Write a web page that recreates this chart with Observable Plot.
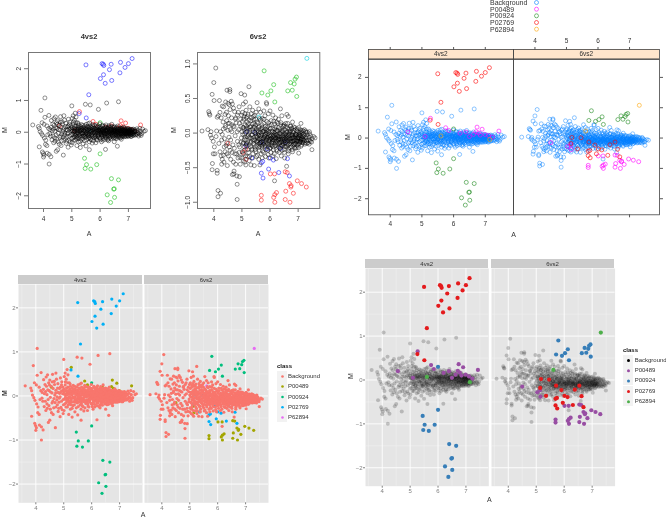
<!DOCTYPE html>
<html><head><meta charset="utf-8">
<style>
html,body{margin:0;padding:0;background:#fff;width:666px;height:518px;overflow:hidden;font-family:"Liberation Sans",Helvetica,Arial,sans-serif}
#page{position:relative;width:666px;height:518px;overflow:hidden;filter:blur(.35px)}
#page svg{position:absolute;overflow:visible;background:transparent;max-width:none}
.t{position:absolute;white-space:nowrap;line-height:1;transform:translate(-50%,-50%)}
.l{position:absolute;white-space:nowrap;line-height:1;transform:translateY(-50%)}
.s{position:absolute}
</style>
<script src="https://cdn.jsdelivr.net/npm/d3@7"></script>
<script src="https://cdn.jsdelivr.net/npm/@observablehq/plot@0.6"></script>
</head><body><div id="page"></div>
<script>
const classes=["Background","P00489","P00924","P02769","P62894"];
const xTicks=[4,5,6,7];
const yTicksWide=[-2,-1,0,1,2];
const yTicksNarrow=[-1,-.5,0,.5,1];
const p02769_4=[5.5,2.12,6.07,2.16,6.11,2.14,6.13,2.1,6.39,2.14,6.72,2.2,7,2.16,7.13,2.32,6.88,2.04,6.33,1.97,6.12,1.81,6.01,1.69,6.18,1.54,6.41,1.63,6.7,1.87,5.6,1.18,5.51,.45,5.26,.59];
const p00489_4=[5.27,.65,5.75,.34,6.74,.36,6.9,.29,7.43,.23,6.39,.2,6.71,.21,6.78,.17,6.63,.12,6.99,.12,7.11,.08,7.23,.03,6.84,.1,4.56,.2,5.1,.05,6.2,.16,5.85,.25,6.5,.05];
const p00924_4=[6,-.68,5.45,-.82,5.52,-1.02,5.88,-1.02,5.47,-1.14,5.67,-1.16,6.4,-1.46,6.65,-1.5,6.5,-1.78,6.48,-1.79,6.25,-1.97,6.51,-2.05,6.37,-2.21,6,.3];
const p62894_4=[5.6,.07,7.14,-.05];
const p00924_6=[5.79,.9,5.71,.58,5.92,.55,6.03,.61,6.13,.7,6.17,.45,6.63,.61,6.79,.62,6.73,.73,6.86,.71,6.89,.78,6.94,.81,6.95,.53];
const p62894_6=[7.31,1.08,5.61,.23];
const p00489_6=[5.69,-.9,5.69,-.97,6.01,-.59,6.16,-.59,6.54,-.56,6.61,-.57,6.69,-.73,6.75,-.76,6.97,-.69,7.12,-.73,7.29,-.78,6.83,-.87,6.74,-.78,6.56,-.84,6.54,-.96,6.71,-1,6.17,-.89,6.23,-.86,6.13,-.93,6.17,-1,5.14,-.23,5.15,-.38,5.04,-.28,4.5,-.15];
const p02769_6=[5.17,.02,5.46,.01,5.71,-.13,5.14,-.18,5.35,-.36,5.69,-.43,5.74,-.41,5.69,-.58,5.75,-.65,5.9,-.23,5.95,-.52,6.01,-.36,6.12,-.39,6.31,-.57,6.38,-.22,6.54,-.13,6.62,-.37,6.69,-.62];
const bg4=[3.62,.23,3.85,.12,3.88,.02,3.82,.18,3.91,.69,4.05,1.08,3.85,-.46,3.96,-.62,3.99,-.67,4,-.78,4.2,-1,4.2,-.7,4.26,-.77,4.13,-.66,4.02,-.72,4.19,.53,3.95,.3,4.02,.25,4.05,.47,3.97,-.1,3.93,-.04,4.03,-.18,4.08,-.25,4.12,-.42,4.07,-.38,4.15,-.08,4.18,.12,4.12,.2,4.23,.08,4.28,.37,4.33,.26,4.37,.43,4.42,.48,4.46,.3,4.5,.36,4.55,.22,4.6,.49,4.66,.33,4.72,.52,4.78,.18,4.25,-.12,4.3,-.24,4.36,-.33,4.4,-.18,4.45,-.6,4.5,-.55,4.44,-.08,4.52,-.3,4.58,-.16,4.62,-.42,4.65,-.06,4.7,-.72,4.72,-.25,4.75,-.09,4.8,-.35,4.83,-.14,4.87,-.47,4.9,-.26,4.93,.32,4.95,.12,4.88,.41,4.85,.06,4.98,-.4,5.02,.44,5,.83,5.12,.6,5.05,.52,5.09,.38,5.15,.48,5.2,.3,5.48,.88,5.65,.86,5.94,.72,6.23,.92,6.65,.96,5.62,-.55,6.19,-.54,6.61,-.44,5.18,-.42,5.24,-.3,5.3,-.48,5.4,-.36,5.5,-.43,5.62,-.3,5.72,-.34,5.85,-.33,6.05,-.3,6.3,-.27,6.5,-.3,6.75,-.22,
4.35,.1,4.4,.03,4.48,.12,4.52,-.03,4.58,.07,4.62,.17,4.68,.02,4.72,.13,4.76,-.02,4.8,.08,4.84,-.05,4.88,.2,4.92,-.12,4.96,.05,4.99,-.2,5.01,.15,5.03,-.07,5.05,.25,5.07,.02,5.09,-.15,5.11,.1,5.13,-.25,5.15,.2,5.17,-.04,5.19,.06,5.21,-.18,5.23,.27,5.25,.12,5.27,-.09,5.29,.02,5.31,.18,5.33,-.22,5.35,.08,5.37,-.13,5.39,.22,5.41,-.02,5.43,.13,5.45,-.27,5.47,.05,5.49,-.16,5.51,.25,5.53,.1,5.55,-.07,5.57,.17,5.59,-.2,5.61,.01,5.63,.29,5.65,-.12,5.67,.09,5.69,-.24,5.71,.15,5.73,-.03,5.75,.24,5.77,.06,5.79,-.17,5.81,.11,5.83,-.09,5.85,.2,5.87,-.23,5.89,.03,5.91,.16,5.93,-.13,5.95,.08,5.97,-.04,5.99,.26,6.01,-.19,6.03,.12,6.05,.01,6.07,-.1,6.09,.19,6.11,-.25,6.13,.06,6.15,-.06,6.17,.14,6.19,-.16,6.21,.23,6.23,.02,6.25,-.11,6.27,.09,6.29,-.21,6.31,.17,6.33,-.03,6.35,.05,6.37,-.14,6.39,.11,6.41,.25,6.43,-.08,6.45,.01,6.47,-.18,6.49,.15,6.51,.07,6.53,-.05,6.55,-.2,6.57,.12,6.59,.03,6.61,-.12,6.63,.2,6.65,-.02,6.67,.08,6.69,-.16,6.71,.13,6.73,-.07,6.75,.03,6.77,-.11,6.79,.1,6.81,-.02,6.83,.16,6.85,-.14,6.87,.05,6.89,-.06,6.91,.11,6.93,-.1,6.95,.01,6.97,.07,6.99,-.13,7.01,.04,7.03,-.04,7.05,.1,7.07,-.08,7.09,.02,7.11,-.13,7.13,.06,7.15,-.03,7.17,.1,7.19,-.09,7.21,.01,7.24,.05,7.27,-.06,7.3,.11,7.33,-.02,7.36,-.12,7.4,.12,7.42,.03,7.45,-.1,7.5,.1,7.55,.03,7.6,.05,7.47,-.04,
5.54,.05,5.58,-.04,5.62,.12,5.66,.02,5.7,-.08,5.74,.07,5.78,.01,5.82,-.02,5.86,.09,5.9,-.07,5.94,.03,5.98,.1,6.02,-.06,6.06,.05,6.1,-.02,6.14,.1,6.18,-.07,6.2,.04,6.24,-.03,6.26,.07,6.28,-.01,6.32,.04,6.36,.1,6.38,-.06,6.42,.01,6.44,.08,6.46,-.04,6.48,.03,6.52,-.01,6.54,.1,6.56,-.06,6.58,.01,6.6,.06,6.62,-.04,6.64,.02,6.66,-.08,6.68,.04,6.7,-.02,6.72,.05,6.74,-.04,6.76,.01,6.78,.07,6.8,-.06,6.82,.02,6.84,-.03,6.86,.04,6.88,-.02,6.9,.02,6.92,-.05,6.94,.05,6.96,-.03,6.98,.02,7,-.01,7.02,.05,7.04,-.06,7.06,.03,7.08,-.02,5.92,-.02,5.96,.06,6,.01,6.04,-.04,6.08,.08,6.12,.02,6.16,-.03,6.22,.06,6.3,-.05,6.34,.02,6.4,-.02,6.5,.02,5.3,.05,5.34,-.03,5.38,.09,5.42,-.08,5.46,.03,5.5,-.05,5.2,.04,5.24,-.06,5.1,.03,5.14,-.09];
const bg4b=[4.22,-.05,4.27,.15,4.31,.05,4.34,-.12,4.38,.22,4.41,-.28,4.43,.14,4.47,-.22,4.49,.25,4.53,.09,4.56,-.38,4.59,.32,4.61,-.12,4.64,-.27,4.67,.26,4.69,-.15,4.71,.07,4.74,.38,4.77,-.2,4.79,.28,4.82,-.28,4.85,.17,4.87,-.02,4.9,.1,4.92,.25,4.94,-.31,4.97,.2,4.98,-.08,5,.1,5.01,-.33,5.02,.04,5.04,-.18,5.06,.32,5.08,-.25,5.1,.18,5.12,-.05,5.14,.3,5.16,-.2,5.18,.09,5.2,-.12,5.22,.16,5.24,.22,5.26,-.2,5.28,.09,5.3,-.28,5.32,.12,5.34,.24,5.36,-.05,5.38,-.2,5.4,.16,5.42,.05,5.44,-.14,5.46,.2,5.48,-.09,5.5,.13,5.52,-.24,5.54,.18,5.56,-.13,5.58,.27,5.6,-.09,5.61,.14,5.63,-.17,5.64,.2,5.66,-.22,5.68,.15,5.7,.03,5.72,-.13,5.74,.19,5.76,-.27,5.78,.13,5.8,.22,5.82,-.14,5.84,.05,5.86,-.18,5.88,.14,5.9,-.25,5.92,.2,5.94,-.09,5.96,.14,5.98,-.17,6,.17,6.02,-.24,6.04,.07,6.06,-.14,6.08,.22,6.1,-.19,6.12,.13,6.14,-.11,6.16,.19,6.18,-.22,6.2,.1,6.22,-.16,6.24,.16,6.26,-.24,6.28,.13,6.3,-.12,6.32,.21,6.34,-.17,6.36,.16,6.38,-.21,6.4,.07,6.42,.18,6.44,-.14,6.46,.14,6.48,-.1,6.5,.18,6.52,-.16,6.54,.04,6.56,-.13,6.58,.16,6.6,-.19,6.62,.09,6.64,-.14,6.66,.14,6.68,-.11,6.7,.09,6.72,-.18,6.74,.12,6.76,-.15,6.78,.12,6.8,-.13,6.82,.08,6.84,-.09,6.86,.13,6.88,-.12,6.9,.07,6.92,-.14,6.94,.1,6.96,-.09,6.98,.12,7,-.11,7.02,.09,7.04,-.1,7.06,.07,7.08,-.13,7.1,.09,7.12,-.07,7.14,.08,7.16,-.1,7.18,.04,7.2,-.06,7.22,.08,7.25,-.09,7.28,.03,7.31,-.07,7.34,.06,7.38,-.04,7.41,-.07,
5.03,.05,5.06,-.03,5.08,.12,5.11,-.1,5.13,.03,5.16,.12,5.18,-.13,5.21,-.02,5.23,.09,5.26,.04,5.28,-.14,5.31,-.04,5.33,.06,5.36,.14,5.38,-.02,5.41,-.11,5.43,.07,5.46,-.13,5.48,.1,5.51,-.02,5.53,.01,5.56,.08,5.59,-.11,5.61,-.05,5.64,.06,5.67,-.06,5.69,.03,5.72,.09,5.75,-.1,5.77,-.02,5.8,.04,5.83,-.12,5.85,.01,5.88,.07,5.91,-.12,5.93,.07,5.96,-.07,5.99,.03,6.01,.07,6.03,-.01,6.05,-.08,6.07,.04,6.09,.09,6.11,-.06,6.13,-.01,6.15,.03,6.17,-.12,6.19,.07,6.21,-.04,6.23,-.07,6.25,.03,6.27,.12,6.29,-.09,6.31,.01,6.33,.09,6.35,-.09,6.37,.03,6.39,-.03,6.41,.05,6.43,-.11,6.45,.06,6.47,-.01,6.49,.09,6.51,-.09,6.53,.03,6.55,.06,6.57,-.02,6.59,-.09,6.61,.02,6.63,.08,6.65,-.06,6.67,.02,6.69,-.04,6.71,.06,6.73,-.01,6.75,-.06,6.77,.05,6.79,-.03,6.81,.06,6.83,-.07,6.85,.02,6.87,.07,6.89,-.04,6.91,-.01,6.93,.03,6.95,-.06,6.97,.04,6.99,-.04,7.01,.01,7.03,.06,7.05,-.02,7.07,.04,7.09,-.06,7.11,.01,7.13,-.01,7.16,.03,7.2,-.02,7.23,.02];
const bg6=[3.58,.03,4.07,.94,4,.73,3.94,.56,4.2,.47,4.01,.47,3.82,.31,3.86,.26,3.79,.05,3.95,-.44,3.94,-.53,4.12,-.54,4.12,-.58,4.15,-.83,4.24,-.87,4.15,-.92,4.83,-.96,4.83,-.74,4.91,-.63,4.71,-.59,4.47,.62,4.57,.63,4.57,.6,4.97,.57,5.1,.55,5.25,.67,5.13,.45,5.54,.44,5.87,.44,5.88,.42,6.37,.35,6.16,-.69,7.02,-.29,7.49,-.24,6.59,-.48,3.84,.28,3.9,.02,3.88,-.03,3.92,-.07,3.98,-.12,4.02,-.2,4.04,-.3,3.98,-.3,4.08,-.05,4.1,.03,4.12,.23,4.16,.25,4.22,.3,4.26,.22,4.3,.39,4.35,.38,4.42,.45,4.5,.43,4.55,.41,4.62,.46,4.66,.42,4.7,.36,4.74,.31,4.4,.27,4.46,.18,4.52,.25,4.58,.34,4.64,.12,4.78,.22,4.84,.26,4.9,.38,4.95,.2,5.02,.3,5.05,.42,5.08,.24,5.15,.33,5.18,.16,5.22,.27,5.28,.38,5.34,.22,5.38,.33,5.42,.14,5.46,.26,5.5,.3,5.6,.35,5.66,.3,5.72,.21,5.78,.32,5.82,.25,5.94,.28,6,.32,6.1,.26,6.2,.22,6.3,.2,6.42,.25,6.5,.12,6.6,.27,6.65,.24,6.72,.1,6.8,.16,7.1,.14,
4.18,-.15,4.22,-.27,4.26,-.33,4.3,-.38,4.34,-.32,4.36,-.42,4.4,-.27,4.28,-.45,4.44,-.18,4.48,-.47,4.52,-.33,4.58,-.25,4.6,-.38,4.66,-.6,4.7,-.42,4.72,-.55,4.75,-.3,4.78,-.45,4.82,-.62,4.86,-.36,4.9,-.28,4.94,-.45,5,-.36,5.06,-.3,5.1,-.42,5.14,-.46,5.2,-.34,5.26,-.4,5.32,-.46,5.38,-.36,5.44,-.47,5.52,-.34,5.6,-.38,5.64,-.46,5.72,-.36,5.84,-.34,5.96,-.36,6.1,-.33,6.22,-.37,6.4,-.33,6.52,-.36,6.65,-.3,6.8,-.27,6.9,-.22,
4.3,-.02,4.34,.06,4.38,-.08,4.42,.11,4.46,-.14,4.5,.04,4.54,-.06,4.56,.14,4.6,-.1,4.64,.02,4.68,-.17,4.72,.09,4.76,-.04,4.8,.15,4.84,-.12,4.88,.05,4.92,-.2,4.96,.1,4.98,-.07,5,.02,5.02,.17,5.04,-.15,5.06,.08,5.08,-.25,5.1,-.02,5.12,.12,5.14,-.1,5.16,.22,5.18,-.19,5.2,.03,5.22,.13,5.24,-.28,5.26,-.06,5.28,.09,5.3,-.14,5.32,.18,5.34,-.03,5.36,-.23,5.38,.06,5.4,-.1,5.42,.2,5.44,-.17,5.46,.01,5.48,.12,5.5,-.27,5.52,-.05,5.54,.16,5.56,-.13,5.58,.04,5.6,-.21,5.62,.1,5.64,-.08,5.66,.19,5.68,-.17,5.7,-.01,5.72,.08,5.74,-.26,5.76,-.11,5.78,.14,5.8,-.04,5.82,-.2,5.84,.06,5.86,-.13,5.88,.17,5.9,-.07,5.92,-.25,5.94,.03,5.96,-.16,5.98,.11,6,-.09,6.02,-.21,6.04,.18,6.06,-.03,6.08,-.14,6.1,.06,6.12,-.24,6.14,-.07,6.16,.13,6.18,-.18,6.2,.02,6.22,-.11,6.24,.16,6.26,-.26,6.28,-.05,6.3,.08,6.32,-.15,6.34,-.01,6.36,-.22,6.38,.12,6.4,-.09,6.42,.02,6.44,-.18,6.46,.1,6.48,-.06,6.5,-.24,6.52,.05,6.54,-.14,6.56,.14,6.58,-.03,6.6,-.19,6.62,.07,6.64,-.1,6.66,-.23,6.68,.03,6.7,-.15,6.72,-.04,6.74,.1,6.76,-.2,6.78,-.07,6.8,.02,6.82,-.13,6.84,.09,6.86,-.17,6.88,-.03,6.9,.05,6.92,-.11,6.94,-.21,6.96,.03,6.98,-.07,7,-.16,7.02,.08,7.04,-.04,7.06,-.12,7.08,.01,7.1,-.19,7.12,-.08,7.14,.04,7.16,-.13,7.18,-.02,7.2,-.09,7.22,.05,7.24,-.16,7.26,-.06,7.28,.01,7.3,-.11,7.32,-.03,7.35,-.14,7.38,-.06,7.4,.02,7.42,-.1,7.45,-.04,7.5,-.08,7.55,-.05,7.6,-.07,7.48,-.13,
5.5,-.04,5.54,-.12,5.58,.01,5.62,-.15,5.66,-.05,5.7,-.12,5.74,.02,5.78,-.07,5.82,-.02,5.86,-.09,5.9,.03,5.94,-.11,5.98,-.03,6.02,-.08,6.06,-.14,6.1,-.05,6.14,.01,6.18,-.09,6.22,-.03,6.26,-.12,6.3,-.04,6.34,-.08,6.38,-.01,6.42,-.13,6.46,-.04,6.5,-.09,6.54,-.02,6.58,-.11,6.62,-.05,6.66,-.01,6.7,-.09,6.74,-.13,6.78,-.03,6.82,-.07,6.86,-.1,6.9,-.05,6.94,-.02,6.98,-.12,7.02,-.06,7.06,-.02,7.1,-.09,5.6,-.09,5.68,-.03,5.76,-.14,5.84,-.05,5.92,-.01,6,-.05,6.08,-.1,6.16,-.04,6.24,-.07,6.32,-.1,6.4,-.05,6.48,-.12,6.56,-.07];
const bg6b=[4.24,.02,4.28,-.1,4.33,.16,4.37,-.2,4.41,.08,4.45,.3,4.47,-.3,4.51,.14,4.55,-.2,4.59,.05,4.63,.22,4.65,-.28,4.69,.1,4.73,-.22,4.77,.2,4.81,-.3,4.83,.02,4.87,.3,4.89,-.17,4.91,.14,4.93,-.35,4.97,-.13,4.99,.26,5.01,-.27,5.03,.08,5.05,-.4,5.07,.2,5.09,-.09,5.11,.28,5.13,-.33,5.15,.06,5.17,-.15,5.19,.24,5.21,-.24,5.23,-.03,5.25,.19,5.27,-.34,5.29,.04,5.31,-.2,5.33,.28,5.35,-.08,5.37,.13,5.39,-.3,5.41,.24,5.43,-.06,5.45,.08,5.47,-.24,5.49,.2,5.51,-.12,5.53,.03,5.55,-.32,5.57,.14,5.59,-.03,5.61,-.25,5.63,.21,5.65,-.14,5.67,.06,5.69,-.3,5.71,.12,5.73,-.18,5.75,.02,5.77,-.28,5.79,.2,5.81,-.12,5.83,.1,5.85,-.24,5.87,.01,5.89,-.17,5.91,.09,5.93,-.31,5.95,.15,5.97,-.09,5.99,-.22,6.01,.07,6.03,-.28,6.05,.12,6.07,-.18,6.09,.02,6.11,-.1,6.13,.17,6.15,-.3,6.17,-.01,6.19,-.14,6.21,.09,6.23,-.24,6.25,.04,6.27,-.17,6.29,.14,6.31,-.08,6.33,-.28,6.35,.05,6.37,-.19,6.39,.15,6.41,-.12,6.43,-.25,6.45,.03,6.47,-.16,6.49,.1,6.51,-.28,6.53,-.05,6.55,.09,6.57,-.2,6.59,.01,6.61,-.12,6.63,.14,6.65,-.26,6.67,-.07,6.69,.06,6.71,-.21,6.73,.03,6.75,-.12,6.77,.07,6.79,-.24,6.81,-.04,6.83,-.16,6.85,.04,6.87,-.21,6.89,.08,6.91,-.15,6.93,-.02,6.95,-.18,6.97,.06,6.99,-.1,7.01,-.21,7.03,.01,7.05,-.15,7.07,.05,7.09,-.12,7.11,.02,7.13,-.17,7.15,-.05,7.17,-.14,7.19,.03,7.21,-.11,7.23,-.03,7.25,-.14,7.27,.03,7.29,-.07,7.31,-.15,7.33,.01,7.36,-.1,7.39,-.16,7.41,-.01,7.44,-.12,
5.03,-.02,5.05,-.14,5.07,.05,5.09,-.2,5.11,-.06,5.13,.01,5.15,-.16,5.17,.1,5.19,-.05,5.21,-.13,5.23,.07,5.25,-.17,5.27,.01,5.29,-.07,5.31,.09,5.33,-.12,5.35,-.24,5.37,-.02,5.39,.02,5.41,-.15,5.43,.09,5.45,-.1,5.47,-.2,5.49,-.01,5.51,.06,5.53,-.19,5.55,-.06,5.57,-.11,5.59,.08,5.61,-.03,5.63,-.19,5.65,.01,5.67,-.14,5.69,-.08,5.71,-.2,5.73,.05,5.75,-.08,5.77,-.16,5.79,.03,5.81,-.06,5.83,-.18,5.85,-.02,5.87,-.1,5.89,.05,5.91,-.15,5.93,-.06,5.95,-.19,5.97,.01,5.99,-.12,6.01,-.04,6.03,-.17,6.05,-.07,6.07,.03,6.09,-.12,6.11,-.2,6.13,-.03,6.15,-.11,6.17,.06,6.19,-.07,6.21,-.18,6.23,-.02,6.25,-.15,6.27,.03,6.29,-.09,6.31,-.2,6.33,-.05,6.35,-.13,6.37,.02,6.39,-.1,6.41,-.18,6.43,.04,6.45,-.08,6.47,-.15,6.49,-.03,6.51,-.11,6.53,-.19,6.55,-.01,6.57,-.09,6.59,-.16,6.61,.02,6.63,-.08,6.65,-.17,6.67,-.03,6.69,-.11,6.71,.01,6.73,-.08,6.75,-.16,6.77,-.02,6.79,-.12,6.81,-.06,6.83,.01,6.85,-.11,6.87,-.07,6.89,-.15,6.91,-.02,6.93,-.09,6.95,-.12,6.97,-.04,6.99,-.07,7.01,-.12,7.03,-.02,7.05,-.08,7.07,-.13,7.09,-.04,7.11,-.1,7.13,-.01,7.15,-.08,7.17,-.1,7.19,-.05];

function rows(flat,cls){const out=[];for(let i=0;i<flat.length;i+=2)out.push({A:flat[i],M:flat[i+1],cls});return out;}
const bgRows={"4vs2":rows([...bg4,...bg4b],"Background"),"6vs2":rows([...bg6,...bg6b],"Background")};
const fgRows={"4vs2":[...rows(p00489_4,"P00489"),...rows(p00924_4,"P00924"),...rows(p02769_4,"P02769"),...rows(p62894_4,"P62894")],
"6vs2":[...rows(p00489_6,"P00489"),...rows(p00924_6,"P00924"),...rows(p02769_6,"P02769"),...rows(p62894_6,"P62894")]};

const page=document.getElementById("page");
const FONT='"Liberation Sans",Helvetica,Arial,sans-serif';
function txt(s,x,y,size,o={}){const d=document.createElement("div");d.className=o.left?"l":"t";d.textContent=s;d.style.left=x+"px";d.style.top=y+"px";d.style.fontSize=size+"px";d.style.color=o.color||"#333";if(o.bold)d.style.fontWeight="bold";if(o.rot)d.style.transform="translate(-50%,-50%) rotate(-90deg)";page.appendChild(d);}
function box(x,y,w,h,bg){const d=document.createElement("div");d.className="s";Object.assign(d.style,{left:x+"px",top:y+"px",width:w+"px",height:h+"px",background:bg});page.appendChild(d);}
function panel(r,xd,yd,marks,m=30){
 const svg=Plot.plot({width:r.w+2*m,height:r.h+2*m,marginLeft:m,marginRight:m,marginTop:m,marginBottom:m,
  x:{domain:xd,axis:null},y:{domain:yd,axis:null},color:{domain:classes,range:r.colors},style:{background:"transparent",fontFamily:FONT},marks});
 svg.style.left=(r.x-m)+"px";svg.style.top=(r.y-m)+"px";page.appendChild(svg);
}
const circles=(d,o)=>Plot.dot(d,{x:"A",y:"M",stroke:"cls",fill:"none",...o});
const discs=(d,o)=>Plot.dot(d,{x:"A",y:"M",fill:"cls",stroke:"none",...o});
const noLabel=()=>"";
const minus=x=>String(x).replace("-","−");

/* ---- base R panels ---- */
const baseColors=["#000000","#ff2020","#20c020","#2020ff","#00d0e0"];
[["4vs2",{x:28.3,y:52.3,w:122,h:156},[3.47,7.78],[-2.4,2.51],yTicksWide,minus,89],
 ["6vs2",{x:197,y:52.3,w:122.3,h:156},[3.42,7.77],[-1.09,1.165],yTicksNarrow,x=>x.toFixed(1).replace("-","−"),258]].forEach(([n,r,xd,yd,yt,fmt,cx])=>{
 panel({...r,colors:baseColors},xd,yd,[
  circles(fgRows[n],{r:2,strokeWidth:.6}),
  circles(bgRows[n],{r:2,strokeWidth:.55,strokeOpacity:.8}),
  Plot.frame({stroke:"#777",strokeWidth:1}),
  Plot.axisX({ticks:xTicks,anchor:"bottom",tickSize:4,tickPadding:4,fontSize:6.5,stroke:"#777",color:"#333",label:null,tickFormat:String}),
  Plot.axisY({ticks:yt,anchor:"left",tickSize:4,tickPadding:4,fontSize:6.5,tickRotate:-90,tickFormat:fmt,stroke:"#777",color:"#333",label:null,textAnchor:"middle"})
 ]);
 txt(n,cx,37,7.5,{bold:true});
 txt("A",cx,233,7);
 txt("M",cx-85,130,7,{rot:true});
});

/* ---- lattice panels ---- */
const latColors=["#0080ff","#ff00ff","#228b22","#ff0000","#ffa500"];
box(368.3,49.3,291,9.4,"#ffe5cc");
[["4vs2",{x:368.3,y:58.7,w:145,h:155.3},[3.315,7.89],true],
 ["6vs2",{x:513.3,y:58.7,w:146,h:155.3},[3.32,7.95],false]].forEach(([n,r,xd,first])=>{
 panel({...r,colors:latColors},xd,[-2.53,2.59],[
  circles(bgRows[n],{r:2,strokeWidth:.6,strokeOpacity:.75}),
  circles(fgRows[n],{r:2,strokeWidth:.6}),
  Plot.frame({stroke:"#444",strokeWidth:.8}),
  Plot.axisX({ticks:xTicks,anchor:"bottom",tickSize:3,tickPadding:4,fontSize:6.5,stroke:"#555",color:"#333",label:null,tickFormat:first?String:noLabel}),
  Plot.axisY({ticks:yTicksWide,anchor:first?"left":"right",tickSize:3,tickPadding:4,fontSize:6.5,stroke:"#555",color:"#333",label:null,tickFormat:first?minus:noLabel})
 ]);
 txt(n,(r.x+r.w/2),54.2,6.5,{color:"#333"});
});
[["4vs2",{x:368.3,y:49.3,w:145,h:9.4},[3.315,7.89],false],["6vs2",{x:513.3,y:49.3,w:146,h:9.4},[3.32,7.95],true]].forEach(([n,r,xd,lab])=>{
 panel({...r,colors:latColors},xd,[0,1],[
  Plot.frame({stroke:"#444",strokeWidth:.8}),
  Plot.axisX({ticks:xTicks,anchor:"top",tickSize:3,tickPadding:3,fontSize:6.5,stroke:"#555",color:"#333",label:null,tickFormat:lab?String:noLabel})
 ]);
});
txt("M",347,137,7,{rot:true});
txt("A",513.5,234,7);
const legY=[2,8.7,15.3,22,28.7];
classes.forEach((c,i)=>{
 txt(c,490,legY[i],7,{left:true,color:"#333"});
});
panel({x:533,y:0,w:6,h:31,colors:latColors},[0,1],[31,0],[
 Plot.dot(classes.map((c,i)=>({cls:c,k:.5,v:legY[i]})),{x:"k",y:"v",stroke:"cls",fill:"none",r:2,strokeWidth:.6})
],2);

/* ---- ggplot panels ---- */
function gg(colors,lay,dotsFor){
 lay.panels.forEach(([n,r,xd])=>{
  box(r.x,lay.stripY,r.w,lay.stripH,"#cccccc");
  txt(n,r.x+r.w/2,lay.stripY+lay.stripH/2+.2,6,{color:"#333"});
  panel({...r,y:lay.y,h:lay.h,colors},xd,lay.yd,[
   Plot.frame({fill:"#e5e5e5",stroke:"none"}),
   Plot.gridX({ticks:[3.5,4.5,5.5,6.5,7.5],stroke:"#f2f2f2",strokeOpacity:1,strokeWidth:.5}),
   Plot.gridY({ticks:[-1.5,-.5,.5,1.5],stroke:"#f2f2f2",strokeOpacity:1,strokeWidth:.5}),
   Plot.gridX({ticks:xTicks,stroke:"#fff",strokeOpacity:1,strokeWidth:.9}),
   Plot.gridY({ticks:yTicksWide,stroke:"#fff",strokeOpacity:1,strokeWidth:.9}),
   ...dotsFor(n),
   Plot.axisX({ticks:xTicks,anchor:"bottom",tickSize:2,tickPadding:1,fontSize:6,stroke:"#7f7f7f",color:"#7f7f7f",label:null,tickFormat:String}),
   ...(n=="4vs2"?[Plot.axisY({ticks:yTicksWide,anchor:"left",tickSize:2,tickPadding:1,fontSize:6,stroke:"#7f7f7f",color:"#7f7f7f",label:null,tickFormat:minus})]:[])
  ]);
 });
 const L=lay.leg;
 txt("class",L.x,L.titleY,6,{left:true,bold:true,color:"#111"});
 classes.forEach((c,i)=>{
  box(L.x,L.ys[i]-5,10,10,"#f2f2f2");
  txt(c,L.x+L.tx,L.ys[i],6,{left:true,color:"#333"});
 });
 panel({x:L.x,y:L.ys[0]-5,w:10,h:L.ys[4]-L.ys[0]+10,colors},[0,10],[L.ys[4]+5,L.ys[0]-5],[
  Plot.dot(classes.map((c,i)=>({cls:c,k:5,v:L.ys[i]})),{x:"k",y:"v",fill:"cls",stroke:"none",r:L.r,fillOpacity:1})
 ],2);
}
gg(["#F8766D","#A3A500","#00BF7D","#00B0F6","#E76BF3"],{
 stripY:275,stripH:8.7,y:283.7,h:218.3,yd:[-2.425,2.53],
 panels:[["4vs2",{x:18.3,w:124},[3.38,7.82]],["6vs2",{x:144,w:124},[3.38,7.82]]],
 leg:{x:277,titleY:366,ys:[376,386,396.5,406.7,417],tx:11,r:1.3}
},n=>[discs(fgRows[n],{r:1.6}),discs(bgRows[n],{r:1.6})]);
gg(["#000000","#984EA3","#377EB8","#E41A1C","#4DAF4A"],{
 stripY:259,stripH:9,y:268,h:217.7,yd:[-2.42,2.54],
 panels:[["4vs2",{x:365,w:123.3},[3.4,7.82]],["6vs2",{x:490.7,w:123.6},[3.4,7.82]]],
 leg:{x:623,titleY:350,ys:[359.7,370,380.3,390.7,401],tx:11.7,r:1.5}
},n=>[discs(bgRows[n],{r:2,fillOpacity:.2}),discs(fgRows[n],{r:2.1})]);
txt("A",143,514,7);
txt("M",4,393,7,{rot:true,bold:true});
txt("A",489.3,499.3,7);
txt("M",350,376,7,{rot:true});
</script></body></html>
